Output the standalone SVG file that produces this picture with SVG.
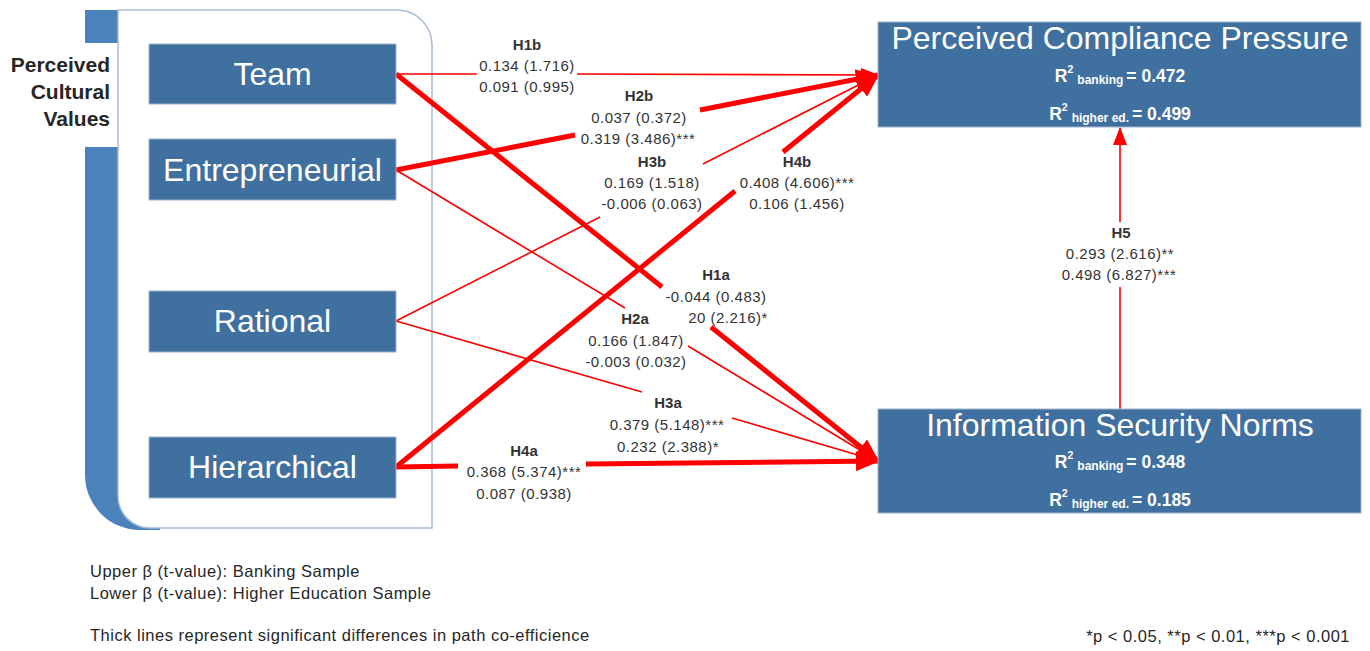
<svg xmlns="http://www.w3.org/2000/svg" width="1370" height="651" viewBox="0 0 1370 651">
<style>
  .box { fill: #40709f; stroke: #9fb3cc; stroke-width: 1; }
  .ttl { font-family: "Liberation Sans", Arial, sans-serif; font-size: 32px; fill: #ffffff; text-anchor: middle; }
  .r2 { font-family: "Liberation Sans", Arial, sans-serif; font-size: 17.5px; font-weight: bold; fill: #ffffff; text-anchor: middle; }
  .thick { fill: none; stroke: #ff0000; stroke-width: 5; marker-end: url(#headThick); }
  .thin { fill: none; stroke: #ff0000; stroke-width: 1.6; marker-end: url(#headThin); }
  .lbl { font-family: "Liberation Sans", Arial, sans-serif; font-size: 15px; fill: #333333; text-anchor: middle; letter-spacing: 0.5px; }
  .hl { font-family: "Liberation Sans", Arial, sans-serif; font-size: 15px; font-weight: bold; fill: #333333; text-anchor: middle; }
  .note { font-family: "Liberation Sans", Arial, sans-serif; font-size: 16.5px; fill: #262626; letter-spacing: 0.5px; }
  .pcv { font-family: "Liberation Sans", Arial, sans-serif; font-size: 21px; font-weight: bold; fill: #262626; text-anchor: end; }
</style>
<defs>
  <marker id="headThick" markerUnits="userSpaceOnUse" markerWidth="24" markerHeight="20" viewBox="0 0 24 20" refX="22" refY="10" orient="auto">
    <path d="M0,0 L24,10 L0,20 Z" fill="#ff0000"/>
  </marker>
  <marker id="headThin" markerUnits="userSpaceOnUse" markerWidth="18" markerHeight="14" viewBox="0 0 18 14" refX="17" refY="7" orient="auto">
    <path d="M0,0 L18,7 L0,14 Z" fill="#ff0000"/>
  </marker>
</defs>
<rect width="1370" height="651" fill="#ffffff"/>

<g id="cultural-values-frame">
  <path d="M85,10 H160 V530 H140 A55,55 0 0 1 85,475 Z" fill="#4a82bb"/>
  <rect x="80" y="43" width="38" height="104" fill="#ffffff"/>
  <path d="M118,10 H397 A35,35 0 0 1 432,45 V528 H150 A32,32 0 0 1 118,496 Z" fill="#ffffff" stroke="#a9bcd4" stroke-width="1.5"/>
  <text class="pcv" x="110" y="72">Perceived</text>
  <text class="pcv" x="110" y="99">Cultural</text>
  <text class="pcv" x="110" y="126">Values</text>
</g>

<g id="connectors">
  <path class="thin" d="M396,74 L477,74 M577,74 L878,75"/>
  <path class="thick" d="M396,74 L662,287 M711,327 L878,461"/>
  <path class="thick" d="M396,170 L575,135 M700,110 L878,75"/>
  <path class="thin" d="M396,170 L625,308 M688,346 L878,461"/>
  <path class="thin" d="M396,321 L600,217 M703,164 L878,75"/>
  <path class="thin" d="M396,321 L642,392 M732,418 L878,461"/>
  <path class="thick" d="M396,467 L735,191 M783,152 L878,75"/>
  <path class="thick" d="M396,467 L458,466 M586,464 L878,461"/>
  <path class="thin" d="M1120,409 L1120,287 M1120,222 L1120,128"/>

  <text class="hl" x="527" y="50">H1b</text>
  <text class="lbl" x="527" y="71">0.134 (1.716)</text>
  <text class="lbl" x="527" y="92">0.091 (0.995)</text>

  <text class="hl" x="639" y="101">H2b</text>
  <text class="lbl" x="639" y="123">0.037 (0.372)</text>
  <text class="lbl" x="638" y="144">0.319 (3.486)***</text>

  <text class="hl" x="652" y="167">H3b</text>
  <text class="lbl" x="652" y="188">0.169 (1.518)</text>
  <text class="lbl" x="652" y="209">-0.006 (0.063)</text>

  <text class="hl" x="797" y="167">H4b</text>
  <text class="lbl" x="797" y="188">0.408 (4.606)***</text>
  <text class="lbl" x="797" y="209">0.106 (1.456)</text>

  <text class="hl" x="716" y="280">H1a</text>
  <text class="lbl" x="716" y="302">-0.044 (0.483)</text>
  <text class="lbl" x="728" y="323">20 (2.216)*</text>

  <text class="hl" x="635" y="324">H2a</text>
  <text class="lbl" x="636" y="346">0.166 (1.847)</text>
  <text class="lbl" x="636" y="367">-0.003 (0.032)</text>

  <text class="hl" x="668" y="408">H3a</text>
  <text class="lbl" x="667" y="430">0.379 (5.148)***</text>
  <text class="lbl" x="668" y="452">0.232 (2.388)*</text>

  <text class="hl" x="524" y="456">H4a</text>
  <text class="lbl" x="524" y="477">0.368 (5.374)***</text>
  <text class="lbl" x="524" y="499">0.087 (0.938)</text>

  <text class="hl" x="1121" y="238">H5</text>
  <text class="lbl" x="1120" y="259">0.293 (2.616)**</text>
  <text class="lbl" x="1119" y="280">0.498 (6.827)***</text>
</g>

<g id="node-team">
  <rect class="box" x="149" y="44" width="247" height="60"/>
  <text class="ttl" x="272.5" y="85">Team</text>
</g>
<g id="node-entrepreneurial">
  <rect class="box" x="149" y="139" width="247" height="61"/>
  <text class="ttl" x="272.5" y="181">Entrepreneurial</text>
</g>
<g id="node-rational">
  <rect class="box" x="149" y="291" width="247" height="61"/>
  <text class="ttl" x="272.5" y="332">Rational</text>
</g>
<g id="node-hierarchical">
  <rect class="box" x="149" y="437" width="247" height="61"/>
  <text class="ttl" x="272.5" y="478">Hierarchical</text>
</g>

<g id="node-compliance-pressure">
  <rect class="box" x="878" y="22" width="483" height="105"/>
  <text class="ttl" x="1120" y="49">Perceived Compliance Pressure</text>
  <text class="r2" x="1120" y="82">R<tspan font-size="10.5" dy="-9">2</tspan><tspan font-size="12" dx="4" dy="11">banking</tspan><tspan dx="3" dy="-2">= 0.472</tspan></text>
  <text class="r2" x="1120" y="120">R<tspan font-size="10.5" dy="-9">2</tspan><tspan font-size="12" dx="4" dy="11">higher ed.</tspan><tspan dx="3" dy="-2">= 0.499</tspan></text>
</g>

<g id="node-security-norms">
  <rect class="box" x="878" y="409" width="483" height="104"/>
  <text class="ttl" x="1120" y="436" font-size="33">Information Security Norms</text>
  <text class="r2" x="1120" y="468">R<tspan font-size="10.5" dy="-9">2</tspan><tspan font-size="12" dx="4" dy="11">banking</tspan><tspan dx="3" dy="-2">= 0.348</tspan></text>
  <text class="r2" x="1120" y="506">R<tspan font-size="10.5" dy="-9">2</tspan><tspan font-size="12" dx="4" dy="11">higher ed.</tspan><tspan dx="3" dy="-2">= 0.185</tspan></text>
</g>

<g id="legend">
  <text class="note" x="90" y="577">Upper β (t-value): Banking Sample</text>
  <text class="note" x="90" y="599">Lower β (t-value): Higher Education Sample</text>
  <text class="note" x="90" y="641">Thick lines represent significant differences in path co-efficience</text>
  <text class="note" x="1350" y="642" text-anchor="end" font-size="15.5" letter-spacing="1">*p &lt; 0.05, **p &lt; 0.01, ***p &lt; 0.001</text>
</g>
</svg>
